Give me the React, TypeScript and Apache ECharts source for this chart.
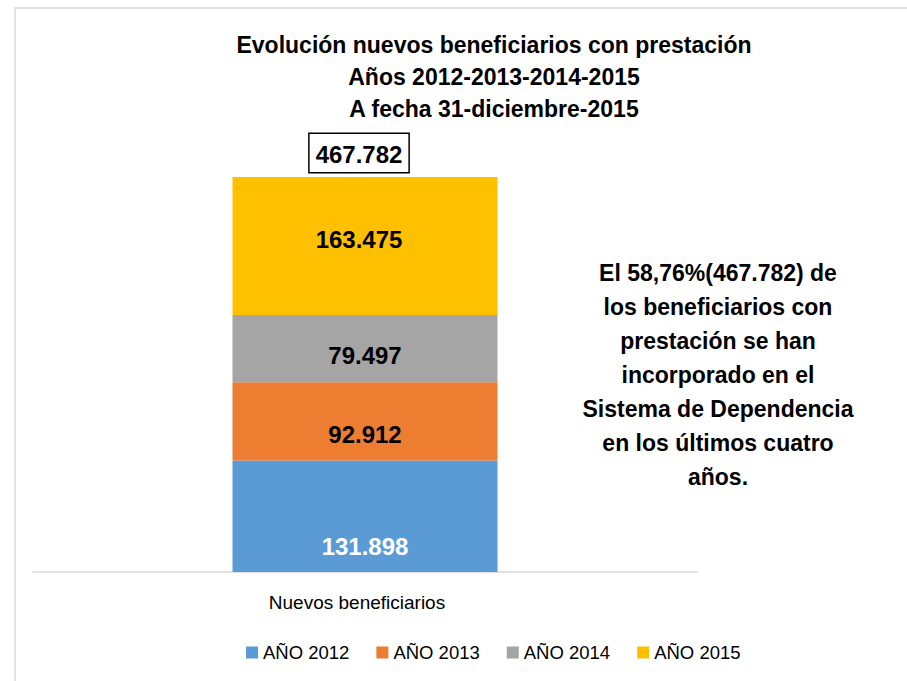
import React, { useEffect, useRef } from "react";
import * as echarts from "echarts";

const categories = ["Nuevos beneficiarios"];
const seriesNames = ["AÑO 2012", "AÑO 2013", "AÑO 2014", "AÑO 2015"];
const values2012 = [131898];
const values2013 = [92912];
const values2014 = [79497];
const values2015 = [163475];
const colors = ["#5b9bd5", "#ed7d31", "#a5a5a5", "#ffc000"];
const titleLines = [
  "Evolución nuevos beneficiarios con prestación",
  "Años 2012-2013-2014-2015",
  "A fecha 31-diciembre-2015",
];
const noteLines = [
  "El 58,76%(467.782) de",
  "los beneficiarios con",
  "prestación se han",
  "incorporado en el",
  "Sistema de Dependencia",
  "en los últimos cuatro",
  "años.",
];

const fmt = (v: number) => String(v).replace(/\B(?=(\d{3})+(?!\d))/g, ".");
const FONT = "'Liberation Sans', Arial, sans-serif";

export default function App() {
  const ref = useRef<HTMLDivElement>(null);
  useEffect(() => {
    if (!ref.current) return;
    const chart = echarts.init(ref.current, undefined, { renderer: "svg" });
    const allSeries = [values2012, values2013, values2014, values2015];
    const totals = categories.map((_, i) => allSeries.reduce((s, arr) => s + arr[i], 0));
    const labelOffsets = [
      [0, 30],
      [0, 13],
      [0, 7],
      [-6, -7],
    ];
    const labelColors = ["#fff", "#000", "#000", "#000"];
    const barSeries = allSeries.map((arr, i) => ({
      name: seriesNames[i],
      type: "bar",
      stack: "total",
      barWidth: 265,
      data: arr,
      itemStyle: { color: colors[i] },
      label: {
        show: true,
        position: "inside",
        offset: labelOffsets[i],
        formatter: (p: any) => fmt(p.value),
        color: labelColors[i],
        fontSize: 24,
        fontWeight: "bold",
        fontFamily: FONT,
      },
    }));
    chart.setOption({
      animation: false,
      textStyle: { fontFamily: FONT },
      grid: { left: 33, right: 210, top: 177, bottom: 109, containLabel: false },
      xAxis: {
        type: "category",
        data: categories,
        axisLine: { show: true, lineStyle: { color: "#d9d9d9", width: 1.5 } },
        axisTick: { show: false },
        axisLabel: {
          color: "#000",
          fontSize: 19,
          margin: 21,
          padding: [0, 16, 0, 0],
          fontFamily: FONT,
        },
      },
      yAxis: {
        type: "value",
        min: 0,
        max: totals[0],
        show: false,
        splitLine: { show: false },
      },
      legend: {
        data: seriesNames,
        left: 241,
        top: 638,
        icon: "rect",
        itemWidth: 12,
        itemGap: 27,
        itemHeight: 12,
        textStyle: { color: "#000", fontSize: 18.5, fontFamily: FONT },
      },
      series: [
        ...barSeries,
        {
          name: "Total",
          type: "scatter",
          data: totals,
          symbolSize: 0,
          silent: true,
          itemStyle: { opacity: 1 },
          label: {
            show: true,
            position: "top",
            distance: 5,
            offset: [-6, 0],
            formatter: (p: any) => fmt(p.value),
            color: "#000",
            opacity: 1,
            fontSize: 24,
            fontWeight: "bold",
            fontFamily: FONT,
            backgroundColor: "#fff",
            borderColor: "#000",
            borderWidth: 1.5,
            padding: [8, 6, 6, 6],
          },
        },
      ],
      graphic: [
        {
          type: "rect",
          shape: { x: 15, y: 8, width: 1200, height: 1200 },
          style: { fill: "none", stroke: "#d9d9d9", lineWidth: 1.5 },
          silent: true,
        },
        {
          type: "text",
          x: 494,
          y: 29,
          style: {
            text: titleLines.join("\n"),
            fill: "#000",
            font: `bold 23px ${FONT}`,
            lineHeight: 32,
            textAlign: "center",
            textVerticalAlign: "top",
          },
        },
        {
          type: "text",
          x: 718,
          y: 256,
          style: {
            text: noteLines.join("\n"),
            fill: "#000",
            font: `bold 23px ${FONT}`,
            lineHeight: 34,
            textAlign: "center",
            textVerticalAlign: "top",
          },
        },
      ],
    });
    return () => chart.dispose();
  }, []);
  return (
    <div
      ref={ref}
      style={{ position: "fixed", left: 0, top: 0, width: 907, height: 681, background: "#fff" }}
    />
  );
}
